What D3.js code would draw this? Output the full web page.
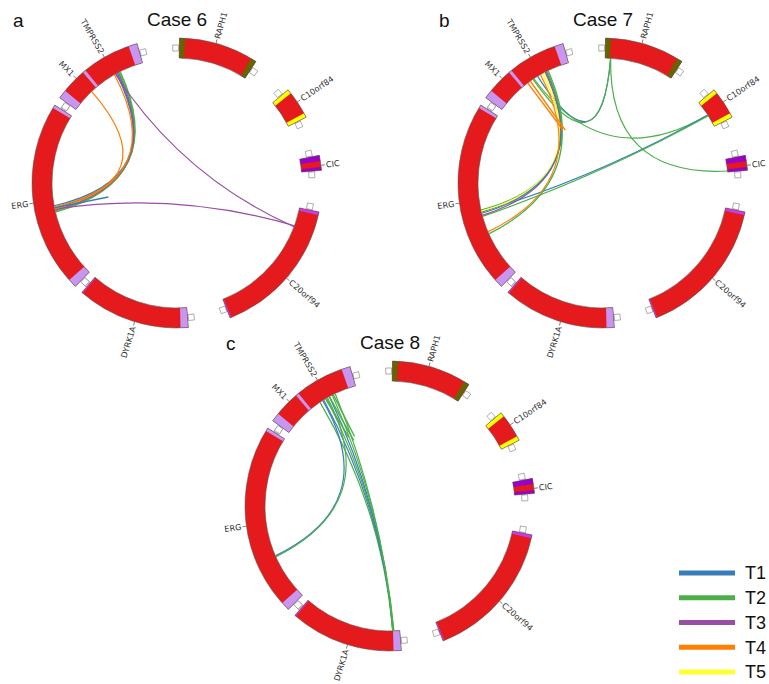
<!DOCTYPE html>
<html>
<head>
<meta charset="utf-8">
<script src="https://cdn.jsdelivr.net/npm/d3@7"></script>
<style>
  html, body { margin: 0; padding: 0; background: #fff; }
  svg { display: block; }
</style>
</head>
<body>
<svg id="chart" width="769" height="684"></svg>
<script>
// ---------------- DATA ----------------
// ideogram blocks (positions in degrees around the circle, clockwise from top)
const segments = [
  { name: "RAPH1",    start: 1,     end: 33 },
  { name: "C10orf84", start: 50,    end: 63 },
  { name: "CIC",      start: 79,    end: 85 },
  { name: "C20orf94", start: 101.5, end: 158.5 },
  { name: "DYRK1A",   start: 175.5, end: 221 },
  { name: "ERG",      start: 224.5, end: 302.5 },
  { name: "TMPRSS2",  start: 306,   end: 344 }
];
// coloured bands on the blocks
const bands = [
  { start: 1,     end: 3.2,   kind: "olive" },
  { start: 30.8,  end: 33,    kind: "olive" },
  { start: 50,    end: 51.8,  kind: "yellow" },
  { start: 61.2,  end: 63,    kind: "yellow" },
  { start: 79,    end: 81.3,  kind: "violet" },
  { start: 83.7,  end: 85,    kind: "violet" },
  { start: 101.5, end: 102.8, kind: "magenta" },
  { start: 158,   end: 158.5, kind: "magenta" },
  { start: 175.5, end: 178.6, kind: "lavender" },
  { start: 220.5, end: 221,   kind: "magenta" },
  { start: 224.5, end: 228,   kind: "lavender" },
  { start: 301.2, end: 302.5, kind: "lavender" },
  { start: 306,   end: 309.5, kind: "lavender" },
  { start: 319.6, end: 320.9, kind: "lavender" },
  { start: 340.5, end: 344,   kind: "lavender" }
];
// gene labels
const labels = [
  { text: "RAPH1",    angle: 15.6 },
  { text: "C10orf84", angle: 56 },
  { text: "CIC",      angle: 83 },
  { text: "C20orf94", angle: 131 },
  { text: "DYRK1A",   angle: 197 },
  { text: "ERG",      angle: 262 },
  { text: "MX1",      angle: 316 },
  { text: "TMPRSS2",  angle: 330 }
];
const seriesNames = ["T1", "T2", "T3", "T4", "T5"];

// links: type, endpoint a, endpoint b (degrees)
const case6Links = [
  { t: "T1", a: 331,   b: 258.5 },
  { t: "T1", a: 332,   b: 259.5 },
  { t: "T2", a: 332.5, b: 256.5 },
  { t: "T2", a: 333,   b: 257 },
  { t: "T3", a: 331.5, b: 257.5 },
  { t: "T3", a: 330.5, b: 110.5 },
  { t: "T3", a: 258,   b: 110 },
  { t: "T4", a: 317,   b: 259 },
  { t: "T4", a: 330,   b: 258 }
];
const case6Stubs = [ { t: "T1", a: 258.5, len: 55 } ];

const case7Links = [
  { t: "T1", a: 3.5,   b: 328.5 },
  { t: "T2", a: 3.5,   b: 326 },
  { t: "T2", a: 3.5,   b: 84.5 },
  { t: "T2", a: 57,    b: 326.5 },
  { t: "T1", a: 57,    b: 256.5 },
  { t: "T2", a: 57.5,  b: 254.5 },
  { t: "T2", a: 334,   b: 257.5 },
  { t: "T5", a: 331,   b: 257 },
  { t: "T5", a: 332,   b: 256 },
  { t: "T3", a: 332.5, b: 255 },
  { t: "T1", a: 333,   b: 256 },
  { t: "T4", a: 330,   b: 247 },
  { t: "T2", a: 333.5, b: 246 }
];
const case7Stubs = [
  { t: "T4", a: 323,   len: 58 },
  { t: "T4", a: 324.5, len: 60 }
];

const case8Links = [
  { t: "T2", a: 326,   b: 178.8 },
  { t: "T1", a: 328,   b: 178.5 },
  { t: "T2", a: 329.5, b: 178.3 },
  { t: "T1", a: 331,   b: 178.6 },
  { t: "T2", a: 332.5, b: 178.2 },
  { t: "T2", a: 334,   b: 178.7 },
  { t: "T1", a: 327.5, b: 246.5 },
  { t: "T2", a: 330,   b: 246 }
];
const case8Stubs = [
  { t: "T2", a: 329, len: 45 },
  { t: "T2", a: 331, len: 50 },
  { t: "T2", a: 333, len: 47 }
];

// ---------------- STYLE / LAYOUT ----------------
const typeColor = d3.scaleOrdinal()
  .domain(seriesNames)
  .range(["#377eb8", "#4daf4a", "#984ea3", "#ff7f00", "#ffff33"]);
const bandColor = {
  olive: "#666600", yellow: "#ffff00", violet: "#9900cc",
  magenta: "#c83ce6", lavender: "#c896f0"
};
const RIN = 125, ROUT = 145, RCTRL = 8;

const ang = d3.scaleLinear().domain([0, 360]).range([0, 2 * Math.PI]);
function pt(deg, r) {
  const t = ang(deg);
  return [r * Math.sin(t), -r * Math.cos(t)];
}

const svg = d3.select("#chart");
const arc = d3.arc();

const panels = [
  { title: "Case 6", letter: "a", cx: 177, cy: 183, links: case6Links, stubs: case6Stubs },
  { title: "Case 7", letter: "b", cx: 603, cy: 183, links: case7Links, stubs: case7Stubs },
  { title: "Case 8", letter: "c", cx: 390, cy: 506, links: case8Links, stubs: case8Stubs }
];

panels.forEach(p => {
  const g = svg.append("g").attr("transform", `translate(${p.cx},${p.cy})`);

  // title and panel letter
  g.append("text").attr("x", 0).attr("y", -157)
    .attr("text-anchor", "middle")
    .style("font-family", "'Liberation Sans', Arial, sans-serif")
    .style("font-size", "19px").attr("fill", "#111").text(p.title);
  g.append("text").attr("x", -164).attr("y", -156)
    .style("font-family", "'Liberation Sans', Arial, sans-serif")
    .style("font-size", "19px").attr("fill", "#111").text(p.letter);

  // end markers (small squares)
  const marks = [];
  segments.forEach(s => {
    marks.push({ s: s.start - 2.8, e: s.start - 0.3 });
    marks.push({ s: s.end + 0.3, e: s.end + 2.8 });
  });
  g.selectAll("path.mark").data(marks).join("path")
    .attr("class", "mark")
    .attr("d", d => arc({ innerRadius: 132, outerRadius: 138, startAngle: ang(d.s), endAngle: ang(d.e) }))
    .attr("fill", "#fff").attr("stroke", "#777").attr("stroke-width", 0.6);

  // blocks
  g.selectAll("path.seg").data(segments).join("path")
    .attr("class", "seg")
    .attr("d", d => arc({ innerRadius: RIN, outerRadius: ROUT, startAngle: ang(d.start), endAngle: ang(d.end) }))
    .attr("fill", "#e41a1c");
  g.selectAll("path.band").data(bands).join("path")
    .attr("class", "band")
    .attr("d", d => arc({ innerRadius: RIN, outerRadius: ROUT, startAngle: ang(d.start), endAngle: ang(d.end) }))
    .attr("fill", d => bandColor[d.kind]);
  g.selectAll("path.segout").data(segments).join("path")
    .attr("class", "segout")
    .attr("d", d => arc({ innerRadius: RIN, outerRadius: ROUT, startAngle: ang(d.start), endAngle: ang(d.end) }))
    .attr("fill", "none").attr("stroke", "#555").attr("stroke-width", 0.6);

  // labels
  const lg = g.selectAll("g.lab").data(labels).join("g")
    .attr("class", "lab")
    .attr("transform", d => `rotate(${d.angle - 90}) translate(${ROUT},0)`);
  lg.append("line").attr("x1", 0).attr("x2", 4).attr("stroke", "#555").attr("stroke-width", 0.7);
  lg.append("text")
    .attr("x", d => d.angle > 180 ? -5 : 5)
    .attr("dy", "0.35em")
    .attr("transform", d => d.angle > 180 ? "rotate(180)" : null)
    .attr("text-anchor", d => d.angle > 180 ? "end" : "start")
    .style("font-family", "'DejaVu Sans', sans-serif")
    .style("font-size", "8.2px").attr("fill", "#333")
    .text(d => d.text);

  // links: quadratic curves, control point near centre along bisector
  function linkPath(d) {
    const A = pt(d.a, RIN), B = pt(d.b, RIN);
    const diff = ((d.b - d.a + 540) % 360) - 180;
    const mid = d.a + diff / 2;
    const C = pt(mid, RCTRL);
    const path = d3.path();
    path.moveTo(A[0], A[1]);
    path.quadraticCurveTo(C[0], C[1], B[0], B[1]);
    return path.toString();
  }
  g.selectAll("path.link").data(p.links).join("path")
    .attr("class", "link")
    .attr("d", linkPath)
    .attr("fill", "none")
    .attr("stroke", d => typeColor(d.t))
    .attr("stroke-width", 1.2);

  g.selectAll("line.stub").data(p.stubs).join("line")
    .attr("class", "stub")
    .attr("x1", d => pt(d.a, RIN)[0]).attr("y1", d => pt(d.a, RIN)[1])
    .attr("x2", d => pt(d.a, RIN - d.len)[0]).attr("y2", d => pt(d.a, RIN - d.len)[1])
    .attr("stroke", d => typeColor(d.t))
    .attr("stroke-width", 1.4);
});

// legend
const ly = d3.scalePoint().domain(seriesNames).range([573, 672]);
const leg = svg.append("g");
leg.selectAll("line").data(seriesNames).join("line")
  .attr("x1", 679).attr("x2", 735)
  .attr("y1", d => ly(d)).attr("y2", d => ly(d))
  .attr("stroke", d => typeColor(d)).attr("stroke-width", 5);
leg.selectAll("text").data(seriesNames).join("text")
  .attr("x", 745).attr("y", d => ly(d)).attr("dy", "0.36em")
  .style("font-family", "'Liberation Sans', Arial, sans-serif")
  .style("font-size", "18px").attr("fill", "#111")
  .text(d => d);
</script>
</body>
</html>
